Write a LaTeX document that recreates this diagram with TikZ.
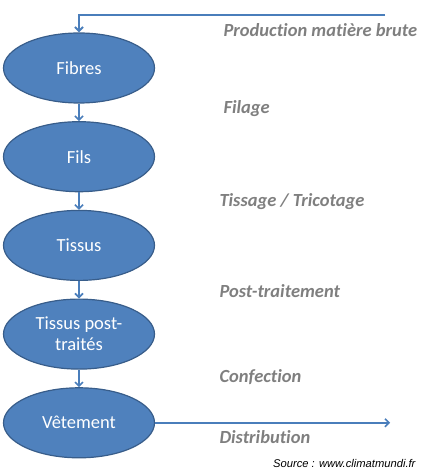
\documentclass[tikz,border=0pt]{standalone}
\usepackage{fontspec}
\setmainfont{Carlito}[Ligatures=NoCommon]
\newfontfamily\sourcefont{Liberation Sans}
\usetikzlibrary{positioning,arrows.meta,shapes.geometric}
\definecolor{stage fill}{HTML}{4F81BD}
\definecolor{stage edge}{HTML}{385D8A}
\definecolor{flow line}{HTML}{4A7EBB}
\definecolor{label grey}{HTML}{7F7F7F}
\tikzset{stage/.style={ellipse, fill=stage fill, draw=stage edge, line width=1.2pt,
		minimum width=151pt, minimum height=70pt, inner sep=0pt, text=white,
		align=center, font=\fontsize{18.5}{21}\selectfont},
	flow/.style={draw=flow line, line width=1.6pt, -{Straight Barb[length=4pt,width=8pt]}},
	process/.style={anchor=west, text=label grey, font=\fontsize{18.5}{21}\selectfont\bfseries\itshape}}

\begin{document}
\begin{tikzpicture}[x=1pt, y=-1pt, node distance=17.5pt]
		\useasboundingbox (0,0) rectangle (425,473);
		% the chain of products
		\node[stage] (fibres) at (79,68) {Fibres};
		\node[stage, below=of fibres] (fils) {Fils};
		\node[stage, below=of fils] (tissus) {Tissus};
		\node[stage, below=of tissus] (traites) {Tissus post-\\traités};
		\node[stage, below=of traites] (vetement) {Vêtement};
		
		\coordinate (raw) at (385,15);
		\coordinate[right=235pt of vetement.east] (market);
		\draw[flow, line width=2pt] (raw) -| (fibres.north);
		\draw[flow] (fibres) -- (fils);
		\draw[flow] (fils) -- (tissus);
		\draw[flow] (tissus) -- (traites);
		\draw[flow] (traites) -- (vetement);
		\draw[flow] (vetement.east) -- (market);
		
		% the steps
		\node[process] (production) at (220,30) {Production matière brute};
		\node[process] (filage) at (220,109) {Filage};
		\node[process] (tissage) at (216,202) {Tissage / Tricotage};
		\node[process] (post) at (216,291) {Post-traitement};
		\node[process] (confection) at (216,377) {Confection};
		\node[process] (distribution) at (216,437) {Distribution};
		\node[anchor=east, font=\sourcefont\itshape\fontsize{11.2}{13}\selectfont] (source) at (419,463) {Source : www.climatmundi.fr};
	\end{tikzpicture}
\end{document}
